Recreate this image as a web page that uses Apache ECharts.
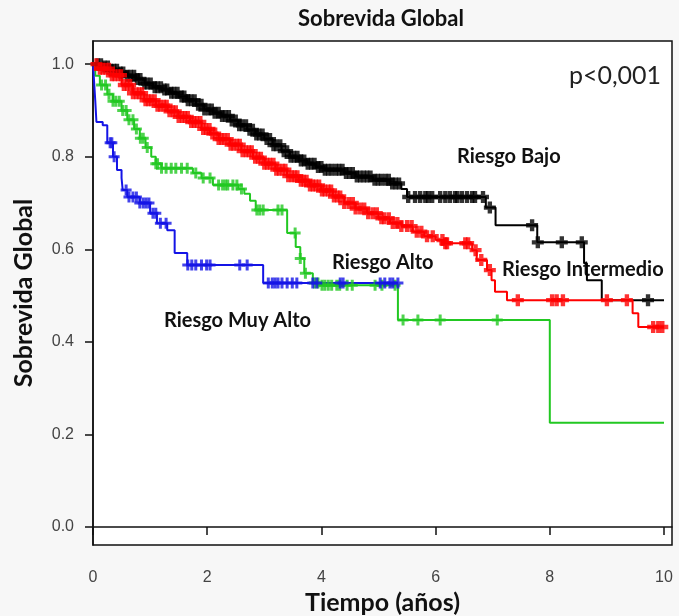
<!DOCTYPE html>
<html>
<head>
<meta charset="utf-8">
<script src="https://cdn.jsdelivr.net/npm/echarts@6/dist/echarts.min.js"></script>
<style>
  html, body { margin: 0; padding: 0; background: #f7f7f7; }
  #chart { width: 679px; height: 616px; }
</style>
</head>
<body>
<div id="chart"></div>
<script>
// Kaplan-Meier steps: [tiempo, supervivencia]
var bajoSteps = [[0,1],[0.15,0.995],[0.3,0.988],[0.45,0.982],[0.6,0.975],[0.75,0.968],[0.9,0.958],[1.05,0.95],[1.2,0.945],[1.35,0.938],[1.5,0.93],[1.65,0.922],[1.8,0.912],[1.95,0.902],[2.1,0.895],[2.25,0.888],[2.4,0.878],[2.55,0.868],[2.7,0.858],[2.85,0.848],[3.0,0.838],[3.15,0.825],[3.3,0.812],[3.45,0.8],[3.6,0.792],[3.75,0.785],[3.9,0.778],[4.05,0.772],[4.4,0.765],[4.6,0.757],[4.9,0.75],[5.2,0.742],[5.4,0.73],[5.5,0.713],[6.88,0.69],[7.05,0.652],[7.78,0.615],[8.6,0.57],[8.65,0.533],[8.91,0.49],[10,0.49]];
var interSteps = [[0,1],[0.1,0.99],[0.3,0.976],[0.5,0.955],[0.7,0.937],[0.9,0.922],[1.1,0.91],[1.3,0.898],[1.5,0.886],[1.7,0.875],[1.9,0.86],[2.05,0.85],[2.2,0.838],[2.4,0.826],[2.6,0.812],[2.8,0.798],[3.0,0.785],[3.2,0.772],[3.4,0.758],[3.6,0.748],[3.8,0.738],[4.0,0.727],[4.2,0.714],[4.4,0.7],[4.6,0.688],[4.8,0.678],[5.0,0.667],[5.2,0.657],[5.4,0.65],[5.6,0.638],[5.8,0.628],[6.0,0.62],[6.15,0.613],[6.64,0.598],[6.72,0.577],[6.9,0.555],[6.98,0.533],[7.04,0.508],[7.25,0.49],[9.45,0.462],[9.55,0.432],[10,0.432]];
var altoSteps = [[0,1],[0.04,0.975],[0.12,0.955],[0.25,0.935],[0.35,0.92],[0.5,0.9],[0.6,0.88],[0.72,0.86],[0.82,0.84],[0.92,0.82],[1.02,0.8],[1.1,0.785],[1.2,0.775],[1.75,0.765],[1.9,0.754],[2.1,0.739],[2.55,0.73],[2.65,0.72],[2.75,0.705],[2.85,0.685],[3.4,0.635],[3.55,0.605],[3.63,0.58],[3.7,0.548],[3.85,0.527],[3.95,0.522],[5.34,0.447],[8.0,0.225],[10,0.225]];
var muyAltoSteps = [[0,1],[0.02,0.96],[0.04,0.92],[0.06,0.875],[0.17,0.868],[0.25,0.83],[0.35,0.8],[0.42,0.771],[0.5,0.754],[0.52,0.728],[0.6,0.713],[0.82,0.7],[1.0,0.678],[1.12,0.656],[1.3,0.641],[1.43,0.592],[1.65,0.566],[2.98,0.527],[5.34,0.527]];

// tiempos censurados
var bajoCens = [0.08,0.14,0.2,0.26,0.31,0.37,0.42,0.48,0.53,0.6,0.66,0.72,0.77,0.83,0.9,0.95,1.01,1.08,1.13,1.19,1.25,1.3,1.37,1.42,1.48,1.55,1.6,1.66,1.72,1.78,1.84,1.9,1.95,2.02,2.08,2.13,2.2,2.26,2.32,2.38,2.43,2.5,2.56,2.61,2.68,2.74,2.8,2.86,2.91,2.97,3.04,3.1,3.16,3.21,3.28,3.34,3.4,3.46,3.52,3.58,3.64,3.7,3.76,3.82,3.88,3.94,4.0,4.06,4.12,4.18,4.25,4.31,4.37,4.43,4.49,4.55,4.62,4.68,4.74,4.8,4.86,4.93,4.99,5.05,5.12,5.18,5.24,5.3,5.36,5.52,5.64,5.73,5.82,5.87,5.94,6.08,6.17,6.25,6.34,6.38,6.46,6.55,6.64,6.69,6.83,6.95,7.69,7.79,8.21,8.56,9.72];
var interCens = [0.06,0.12,0.17,0.22,0.28,0.33,0.38,0.44,0.49,0.54,0.6,0.65,0.7,0.76,0.81,0.86,0.92,0.97,1.02,1.08,1.13,1.18,1.24,1.29,1.34,1.4,1.45,1.5,1.56,1.61,1.66,1.72,1.77,1.82,1.88,1.93,1.98,2.04,2.09,2.14,2.2,2.25,2.3,2.36,2.41,2.46,2.52,2.57,2.62,2.68,2.73,2.78,2.84,2.89,2.94,3.0,3.05,3.1,3.16,3.21,3.26,3.32,3.37,3.42,3.48,3.53,3.58,3.64,3.69,3.74,3.8,3.85,3.9,3.96,4.01,4.06,4.12,4.17,4.22,4.28,4.33,4.4,4.48,4.55,4.6,4.68,4.75,4.82,4.9,4.97,5.05,5.1,5.18,5.25,5.33,5.4,5.5,5.58,5.67,5.75,5.85,5.95,6.12,6.17,6.2,6.52,6.57,6.7,6.8,6.95,7.44,8.04,8.12,8.23,9.0,9.35,9.81,9.9,9.97];
var altoCens = [0.15,0.22,0.28,0.35,0.4,0.46,0.52,0.58,0.63,0.7,0.76,0.83,0.88,0.95,1.1,1.13,1.2,1.28,1.37,1.45,1.55,1.65,1.8,1.93,2.05,2.2,2.27,2.32,2.36,2.45,2.52,2.6,2.87,2.92,2.98,3.24,3.31,3.54,3.63,3.72,3.88,3.94,4.01,4.06,4.12,4.18,4.27,4.32,4.45,4.54,4.94,5.06,5.29,5.43,5.69,6.08,7.08];
var muyAltoCens = [0.3,0.33,0.37,0.58,0.63,0.7,0.76,0.82,0.88,0.93,0.98,1.05,1.1,1.18,1.28,1.66,1.73,1.8,1.9,1.99,2.05,2.57,2.7,3.07,3.14,3.19,3.24,3.31,3.4,3.49,3.57,3.85,3.92,4.33,4.38,5.03,5.11,5.2,5.25,5.34];

var yTicks = [0, 0.2, 0.4, 0.6, 0.8, 1.0];

function survAt(steps, t) {
    var s = steps[0][1];
    for (var i = 0; i < steps.length; i++) {
        if (steps[i][0] <= t) s = steps[i][1];
    }
    return s;
}

// marcas de censura "+" (gruesa y fina)
var plusBold = 'path://M3.5,0H7.5V3.5H11V7.5H7.5V11H3.5V7.5H0V3.5H3.5Z';
var plusThin = 'path://M4,0H7V4H11V7H7V11H4V7H0V4H4Z';

function km(name, steps, cens, color, sym, size) {
    return [{
        name: name,
        type: 'line',
        step: 'end',
        data: steps,
        showSymbol: false,
        lineStyle: { color: color, width: 2 },
        z: 3
    }, {
        name: name,
        type: 'scatter',
        data: cens.map(function (t) { return [t, survAt(steps, t)]; }),
        symbol: sym,
        symbolSize: size,
        itemStyle: { color: color },
        z: 3
    }];
}

var mychart = echarts.init(document.getElementById('chart'));
var lbl = 'bold 20px Lato';
var option = {
    animation: false,
    backgroundColor: '#f7f7f7',
    grid: {
        left: 93, right: 7, top: 41, bottom: 71,
        outerBoundsMode: 'none', containLabel: false,
        show: true, backgroundColor: '#fff', borderColor: '#111', borderWidth: 1.5
    },
    xAxis: {
        type: 'value', min: 0, max: 10.14, interval: 2,
        name: 'Tiempo (años)', nameLocation: 'middle', nameGap: 45,
        nameTextStyle: { fontFamily: 'Lato', fontWeight: 'bold', fontSize: 25, color: '#111' },
        axisLine: { show: true, lineStyle: { color: '#111', width: 1.5 } },
        axisTick: { show: true, length: 8, lineStyle: { color: '#111', width: 1.5 } },
        axisLabel: { margin: 25, fontFamily: 'Liberation Sans', fontSize: 16, color: '#444' },
        splitLine: { show: false }
    },
    yAxis: {
        type: 'value', min: -0.039, max: 1.05,
        name: 'Sobrevida Global', nameLocation: 'middle', nameGap: 57,
        nameTextStyle: { fontFamily: 'Lato', fontWeight: 'bold', fontSize: 25, color: '#111' },
        axisLine: { show: true, lineStyle: { color: '#111', width: 1.5 } },
        axisTick: { show: true, length: 8, customValues: yTicks, lineStyle: { color: '#111', width: 1.5 } },
        axisLabel: {
            margin: 19, customValues: yTicks, fontFamily: 'Liberation Sans', fontSize: 16, color: '#444',
            formatter: function (v) { return v.toFixed(1); }
        },
        splitLine: { show: false }
    },
    graphic: [
        { type: 'text', x: 381, y: 19, style: { text: 'Sobrevida Global', font: 'bold 22px Lato', fill: '#111', textAlign: 'center', textVerticalAlign: 'middle' } },
        { type: 'text', x: 615, y: 76, style: { text: 'p<0,001', font: '25px Lato', fill: '#222', textAlign: 'center', textVerticalAlign: 'middle' } },
        { type: 'text', x: 457, y: 157, style: { text: 'Riesgo Bajo', font: lbl, fill: '#111', textVerticalAlign: 'middle' } },
        { type: 'text', x: 502, y: 270, style: { text: 'Riesgo Intermedio', font: lbl, fill: '#111', textVerticalAlign: 'middle' } },
        { type: 'text', x: 332, y: 263, style: { text: 'Riesgo Alto', font: lbl, fill: '#111', textVerticalAlign: 'middle' } },
        { type: 'text', x: 164, y: 321, style: { text: 'Riesgo Muy Alto', font: lbl, fill: '#111', textVerticalAlign: 'middle' } }
    ],
    series: [].concat(
        km('Riesgo Bajo', bajoSteps, bajoCens, '#000000', plusBold, 12),
        km('Riesgo Intermedio', interSteps, interCens, '#ff0000', plusBold, 12),
        km('Riesgo Alto', altoSteps, altoCens, '#22c822', plusThin, 11),
        km('Riesgo Muy Alto', muyAltoSteps, muyAltoCens, '#1414e6', plusThin, 11)
    )
};
mychart.setOption(option);
</script>
</body>
</html>
